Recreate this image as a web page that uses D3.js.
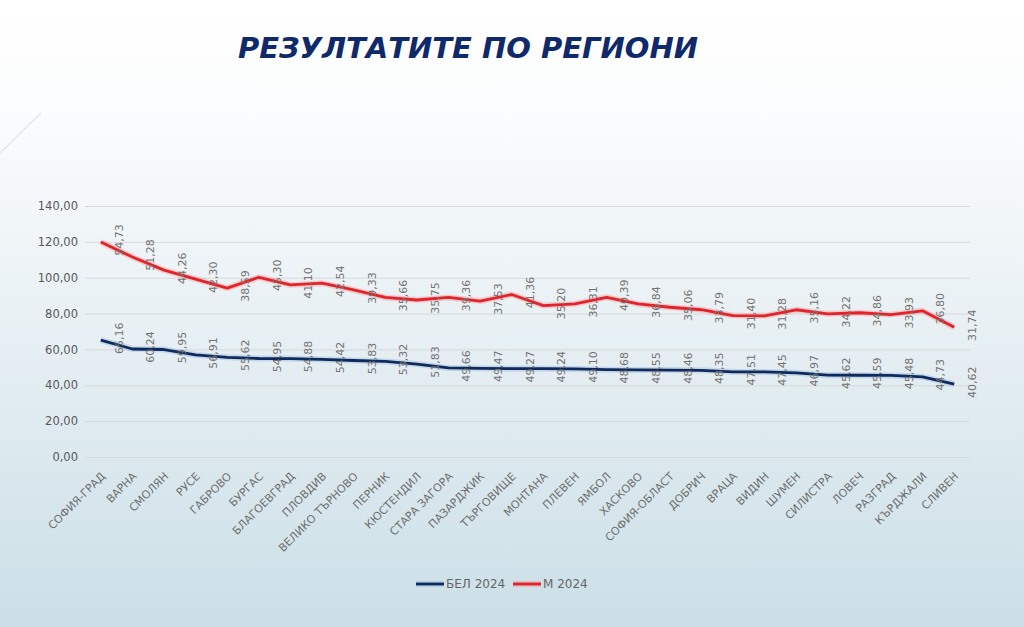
<!DOCTYPE html>
<html>
<head>
<meta charset="utf-8">
<script src="https://cdn.jsdelivr.net/npm/d3@7"></script>
<style>
  html, body { margin: 0; padding: 0; background: #fff; }
  svg { display: block; }
</style>
</head>
<body>
<script>
const WIDTH = 1024
const HEIGHT = 627

// oblasti
const regions = ['СОФИЯ-ГРАД', 'ВАРНА', 'СМОЛЯН', 'РУСЕ', 'ГАБРОВО', 'БУРГАС', 'БЛАГОЕВГРАД',
  'ПЛОВДИВ', 'ВЕЛИКО ТЪРНОВО', 'ПЕРНИК', 'КЮСТЕНДИЛ', 'СТАРА ЗАГОРА', 'ПАЗАРДЖИК', 'ТЪРГОВИЩЕ',
  'МОНТАНА', 'ПЛЕВЕН', 'ЯМБОЛ', 'ХАСКОВО', 'СОФИЯ-ОБЛАСТ', 'ДОБРИЧ', 'ВРАЦА', 'ВИДИН', 'ШУМЕН',
  'СИЛИСТРА', 'ЛОВЕЧ', 'РАЗГРАД', 'КЪРДЖАЛИ', 'СЛИВЕН']

const bel2024 = [65.16, 60.24, 59.95, 56.91, 55.62, 54.95, 54.88, 54.42, 53.83, 53.32, 51.83,
  49.66, 49.47, 49.27, 49.24, 49.10, 48.68, 48.55, 48.46, 48.35, 47.51, 47.45, 46.97, 45.62,
  45.59, 45.48, 44.73, 40.62]

const m2024 = [54.73, 51.28, 44.26, 42.30, 38.59, 45.30, 41.10, 42.54, 39.33, 35.66, 35.75,
  39.36, 37.53, 41.36, 35.20, 36.31, 40.39, 36.84, 35.06, 33.79, 31.40, 31.28, 35.16, 34.22,
  34.86, 33.93, 36.80, 31.74]

const yTicks = [0, 20, 40, 60, 80, 100, 120, 140]

const seriesNames = ['БЕЛ 2024', 'М 2024']
const COLORS = ['#0f2a5c', '#e3222a']
const HALOS = ['rgba(90,130,200,0.22)', 'rgba(255,90,90,0.25)']

// zona na grafika
const X0 = 85, X1 = 970
const Y0 = 457, Y1 = 206

const fmt = d3.formatLocale({ decimal: ',', thousands: ' ', grouping: [3], currency: ['', ''] }).format('.2f')

const svg = d3.select('body').append('svg').attr('width', WIDTH).attr('height', HEIGHT)

// fon
const defs = svg.append('defs')
const grad = defs.append('linearGradient').attr('id', 'bg').attr('x1', 0).attr('y1', 0).attr('x2', 0).attr('y2', 1)
grad.append('stop').attr('offset', '0%').attr('stop-color', '#ffffff')
grad.append('stop').attr('offset', '18%').attr('stop-color', '#fbfcfd')
grad.append('stop').attr('offset', '55%').attr('stop-color', '#e6eff3')
grad.append('stop').attr('offset', '100%').attr('stop-color', '#cbdfe7')
svg.append('rect').attr('width', WIDTH).attr('height', HEIGHT).attr('fill', 'url(#bg)')

svg.append('line')
  .attr('x1', 0).attr('y1', 153).attr('x2', 41).attr('y2', 113)
  .attr('stroke', '#e3e8eb').attr('stroke-width', 1.5)

// zaglavie
svg.append('text')
  .attr('x', 468).attr('y', 58)
  .attr('text-anchor', 'middle')
  .attr('font-family', 'DejaVu Sans')
  .attr('font-weight', 'bold')
  .attr('font-style', 'italic')
  .attr('font-size', 29)
  .attr('fill', '#10296a')
  .text('РЕЗУЛТАТИТЕ ПО РЕГИОНИ')

const xScale = d3.scalePoint().domain(regions).range([X0, X1]).padding(0.5)
const yScale = d3.scaleLinear().domain([0, 140]).range([Y0, Y1])

// mreja
svg.append('g')
  .attr('transform', `translate(${X0}, 0)`)
  .call(d3.axisLeft(yScale).tickValues(yTicks).tickSize(-(X1 - X0)).tickFormat(''))
  .call(g => g.select('.domain').remove())
  .call(g => g.selectAll('line').attr('stroke', '#d9d9d9'))

// Y os
svg.append('g')
  .attr('transform', `translate(${X0}, 0)`)
  .call(d3.axisLeft(yScale).tickValues(yTicks).tickSize(0).tickPadding(7).tickFormat(fmt))
  .call(g => g.select('.domain').remove())
  .call(g => g.selectAll('text')
    .attr('font-family', 'DejaVu Sans')
    .attr('font-size', 11.5)
    .attr('fill', '#595959'))

// X etiketi
svg.append('g').selectAll('text')
  .data(regions)
  .enter()
  .append('text')
  .attr('transform', d => `translate(${xScale(d) + 5}, 477) rotate(-45)`)
  .attr('text-anchor', 'end')
  .attr('font-family', 'DejaVu Sans')
  .attr('font-size', 11)
  .attr('fill', '#6f6f6f')
  .text(d => d)

// naslagvane (stacked line)
const stacked = [
  bel2024.map((v, i) => ({ region: regions[i], value: v, label: v })),
  m2024.map((v, i) => ({ region: regions[i], value: v + bel2024[i], label: v }))
]

const line = d3.line()
  .x(d => xScale(d.region))
  .y(d => yScale(d.value))

stacked.forEach((series, s) => {
  svg.append('path')
    .datum(series)
    .attr('d', line)
    .attr('fill', 'none')
    .attr('stroke', HALOS[s])
    .attr('stroke-width', 6)
    .attr('stroke-linejoin', 'round')
  svg.append('path')
    .datum(series)
    .attr('d', line)
    .attr('fill', 'none')
    .attr('stroke', COLORS[s])
    .attr('stroke-width', 2.8)
    .attr('stroke-linejoin', 'round')
})

// etiketi na stojnostite
stacked.forEach(series => {
  svg.append('g').selectAll('text')
    .data(series)
    .enter()
    .append('text')
    .attr('transform', d => `translate(${xScale(d.region) + 18}, ${yScale(d.value) - 2}) rotate(-90)`)
    .attr('text-anchor', 'middle')
    .attr('dy', '0.35em')
    .attr('font-family', 'DejaVu Sans')
    .attr('font-size', 11)
    .attr('fill', '#737373')
    .text(d => fmt(d.label))
})

// legenda
const legendX = [416, 513]
const legend = svg.append('g')
seriesNames.forEach((name, i) => {
  legend.append('line')
    .attr('x1', legendX[i]).attr('x2', legendX[i] + 28)
    .attr('y1', 584).attr('y2', 584)
    .attr('stroke', HALOS[i]).attr('stroke-width', 6)
  legend.append('line')
    .attr('x1', legendX[i]).attr('x2', legendX[i] + 28)
    .attr('y1', 584).attr('y2', 584)
    .attr('stroke', COLORS[i]).attr('stroke-width', 2.8)
  legend.append('text')
    .attr('x', legendX[i] + 30).attr('y', 584)
    .attr('dy', '0.35em')
    .attr('font-family', 'DejaVu Sans')
    .attr('font-size', 12)
    .attr('fill', '#666666')
    .text(name)
})
</script>
</body>
</html>
